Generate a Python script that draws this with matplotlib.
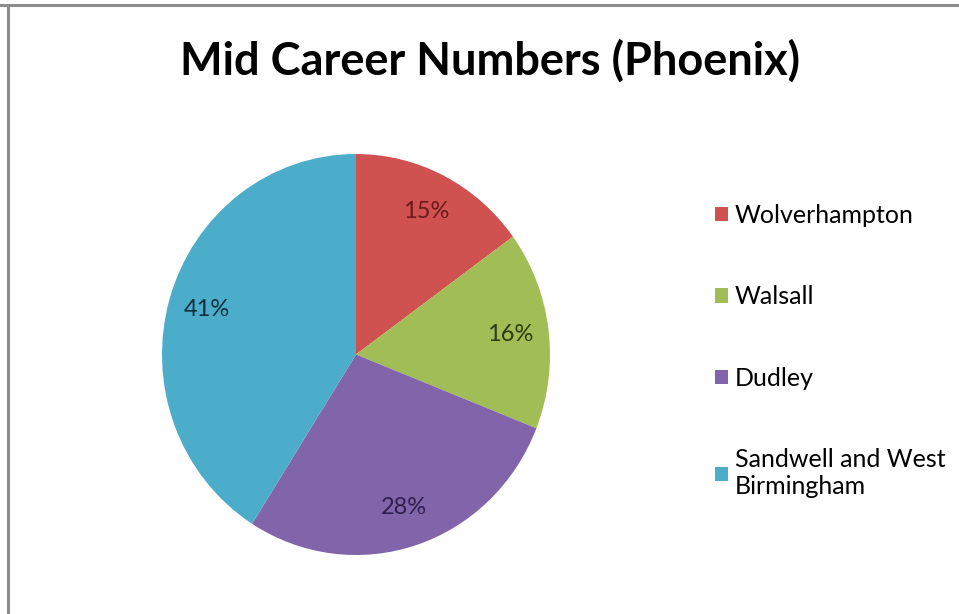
import matplotlib
matplotlib.use("Agg")
import matplotlib.pyplot as plt
from matplotlib.lines import Line2D
from matplotlib.patches import Patch

# Data
regions = ["Wolverhampton", "Walsall", "Dudley", "Sandwell and West\nBirmingham"]
shares = [15, 16, 28, 41]
colors = ["#CF5150", "#A0BE55", "#8264AA", "#4BADC9"]
label_colors = ["#6A1A1A", "#2E3A10", "#2E1F4E", "#0F2F40"]

W, H = 959, 614
fig = plt.figure(figsize=(W / 100, H / 100), dpi=100)
fig.patch.set_facecolor("white")

# Pie axes: centre (356, 354.5) px, slightly taller than wide
cx, cy, rx, ry = 356, 354.5, 194, 200.5
ax = fig.add_axes([(cx - rx) / W, (H - cy - ry) / H, 2 * rx / W, 2 * ry / H])
wedges, texts, autotexts = ax.pie(
    shares, colors=colors, startangle=90, counterclock=False,
    autopct="%1.0f%%", pctdistance=0.8, radius=1.0,
    wedgeprops=dict(linewidth=0),
    textprops=dict(fontsize=17, family="Lato"),
)
for t, c in zip(autotexts, label_colors):
    t.set_color(c)
ax.set_xlim(-1, 1)
ax.set_ylim(-1, 1)
ax.set_aspect("auto")
ax.axis("off")

# Title
fig.text(490 / W, 1 - 61 / H, "Mid Career Numbers (Phoenix)",
         ha="center", va="center", fontsize=32.5, fontweight="bold",
         family="Lato", color="black")

# Legend
handles = [Patch(facecolor=c, edgecolor="none") for c in colors]
leg = fig.legend(handles, regions, loc="upper left",
                 bbox_to_anchor=(715 / W, 1 - 204 / H),
                 frameon=False, prop=dict(family="Lato", size=18),
                 handlelength=0.5, handleheight=0.5, handletextpad=0.3,
                 labelspacing=2.34, borderaxespad=0, borderpad=0)

# Chart frame lines (top and left)
fig.add_artist(Line2D([0, 1], [1 - 5 / H, 1 - 5 / H], transform=fig.transFigure,
                      color="#8C8C8C", linewidth=2.2))
fig.add_artist(Line2D([8 / W, 8 / W], [0, 1 - 5 / H], transform=fig.transFigure,
                      color="#8C8C8C", linewidth=2.2))

fig.savefig("out.png", dpi=100, facecolor="white")
